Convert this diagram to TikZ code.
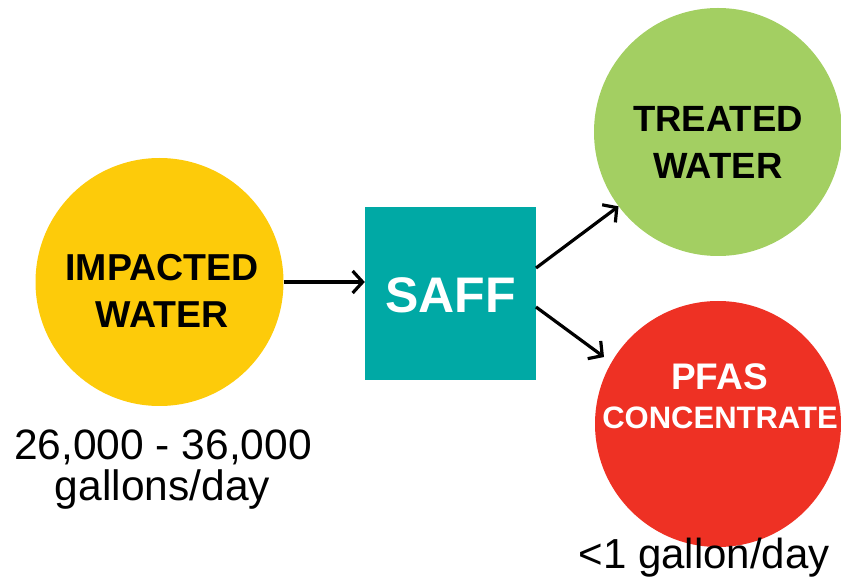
\documentclass[tikz,border=0pt]{standalone}
\usepackage{fontspec}
\setmainfont{Liberation Sans}
\usetikzlibrary{arrows.meta}
\definecolor{cyellow}{HTML}{FDCB0A}
\definecolor{cgreen}{HTML}{A3CF62}
\definecolor{cred}{HTML}{EE3124}
\definecolor{cteal}{HTML}{00A9A5}
\tikzset{
  blob/.style={circle, inner sep=0pt, draw=none},
  lbl/.style={anchor=base, inner sep=0pt},
  flow/.style={line width=3.2pt, -{Straight Barb[length=10pt,width=22pt,line width=3.2pt]}},
}
\newcommand{\fs}[1]{\fontsize{#1}{#1}\selectfont}
\begin{document}
\begin{tikzpicture}[x=1pt,y=1pt]
\useasboundingbox (0,0) rectangle (841,587);
\node[blob, fill=cyellow, minimum size=248pt] (imp) at (159.5,305) {};
\node[blob, fill=cgreen, minimum size=248pt] (tre) at (718,455) {};
\node[blob, fill=cred, minimum size=246pt] (pfas) at (718,163) {};
\node[fill=cteal, inner sep=0pt, minimum width=171pt, minimum height=173pt] (saff) at (450.5,293.5) {};

\node[lbl, font=\fs{37.5}\bfseries] (imp1) at (162,306) {IMPACTED};
\node[lbl, font=\fs{37.5}\bfseries] (imp2) at (162,259) {WATER};
\node[lbl, font=\fs{50}\bfseries, text=white] (saffl) at (450.5,274) {SAFF};
\node[lbl, font=\fs{36.5}\bfseries] (tre1) at (718,455) {TREATED};
\node[lbl, font=\fs{36.5}\bfseries] (tre2) at (718,408) {WATER};
\node[lbl, font=\fs{37}\bfseries, text=white] (pf1) at (719.5,197) {PFAS};
\node[lbl, font=\fs{31}\bfseries, text=white] (pf2) at (720,159) {CONCENTRATE};
\node[lbl, font=\fs{42.5}] (q1) at (163,128) {26,000 - 36,000};
\node[lbl, font=\fs{42.5}] (q2) at (162.5,87) {gallons/day};
\node[lbl, font=\fs{42}] (q3) at (704,19) {<1 gallon/day};

\coordinate (s1) at (536,319);
\coordinate (s2) at (536,280);
\coordinate (t2) at (604,230);
\draw[flow] (imp.east) -- (imp.east -| saff.west);
\draw[flow] (s1) -- (tre);
\draw[flow] (s2) -- (t2);
\end{tikzpicture}
\end{document}
